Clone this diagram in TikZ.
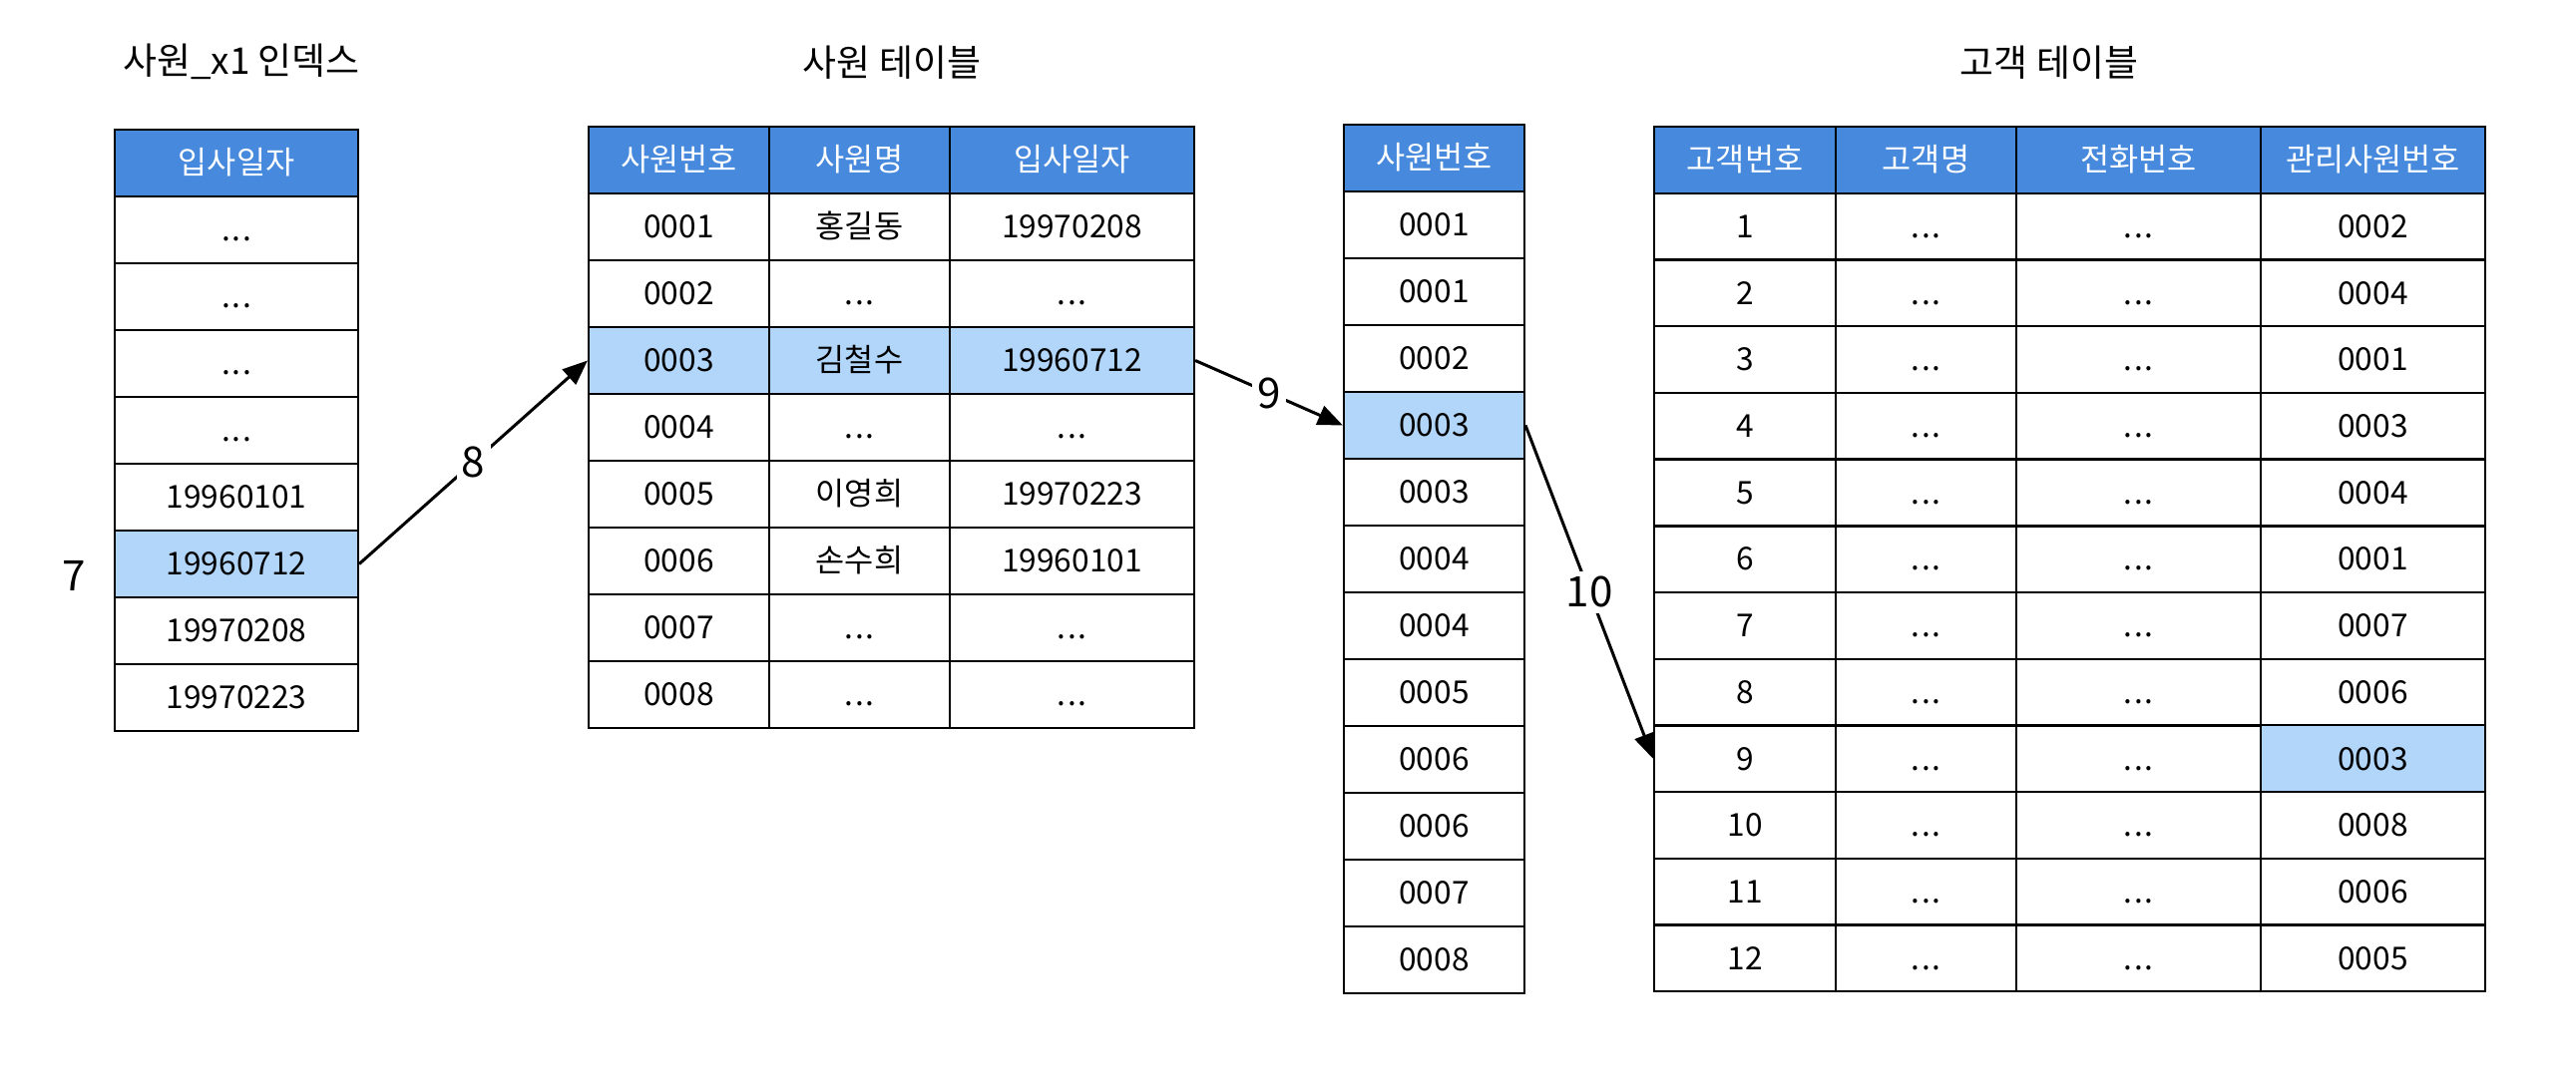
\documentclass[tikz,border=0pt]{standalone}
\usepackage{fontspec}
\setmainfont{Noto Sans CJK KR}
\usepackage{xcolor}
\usepackage{tikz}
\usetikzlibrary{arrows.meta}
\definecolor{headblue}{RGB}{70,137,221}
\definecolor{rowblue}{RGB}{177,214,250}
\newcommand{\etc}{.\kern0.5pt.\kern0.5pt.}

\tikzset{
  cell/.style={draw=black, line width=0.2mm, minimum height=0.67cm, inner sep=0pt, text height=0.72em, text depth=0.08em, font=\fontsize{9}{11}\selectfont},
  head/.style={cell, fill=headblue, text=white},
  hit/.style={cell, fill=rowblue},
  title/.style={font=\fontsize{10.5}{13}\selectfont},
  numlabel/.style={fill=white, inner sep=1.5pt, font=\fontsize{12}{14}\selectfont},
  link/.style={line width=0.3mm, -{Triangle[length=2.5mm, width=2mm]}}
}

\begin{document}
\begin{tikzpicture}[x=0.01cm, y=-0.01cm]
            \useasboundingbox (0,0) rectangle (2582,1094);

            % titles
            \node[title] (t1) at (242,62) {사원\_x1 인덱스};
            \node[title] (t2) at (894,63) {사원 테이블};
            \node[title] (t3) at (2054,63) {고객 테이블};

            % index table
            \node[head, minimum width=2.44cm] (i0) at (237,163.5) {입사일자};
            \foreach \v/\s [count=\r] in {\etc/cell,\etc/cell,\etc/cell,\etc/cell,19960101/cell,19960712/hit,19970208/cell,19970223/cell}
              \node[\s, minimum width=2.44cm] (i\r) at (237,163.5+67*\r) {\v};
            \node[numlabel] (n7) at (74,577) {7};

            % employee table
            \node[head, minimum width=1.81cm] (ea0) at (680.5,160.5) {사원번호};
            \node[head, minimum width=1.81cm] (eb0) at (861.5,160.5) {사원명};
            \node[head, minimum width=2.45cm] (ec0) at (1074.5,160.5) {입사일자};
            \foreach \a/\b/\c/\s [count=\r] in {0001/홍길동/19970208/cell,0002/\etc/\etc/cell,0003/김철수/19960712/hit,0004/\etc/\etc/cell,0005/이영희/19970223/cell,0006/손수희/19960101/cell,0007/\etc/\etc/cell,0008/\etc/\etc/cell} {
              \node[\s, minimum width=1.81cm] (ea\r) at (680.5,160.5+67*\r) {\a};
              \node[\s, minimum width=1.81cm] (eb\r) at (861.5,160.5+67*\r) {\b};
              \node[\s, minimum width=2.45cm] (ec\r) at (1074.5,160.5+67*\r) {\c};
            }

            % employee number index
            \node[head, minimum width=1.81cm] (m0) at (1437.5,158.5) {사원번호};
            \foreach \v/\s [count=\r] in {0001/cell,0001/cell,0002/cell,0003/hit,0003/cell,0004/cell,0004/cell,0005/cell,0006/cell,0006/cell,0007/cell,0008/cell}
              \node[\s, minimum width=1.81cm] (m\r) at (1437.5,158.5+67*\r) {\v};

            % customer table
            \node[head, minimum width=1.82cm] (ca0) at (1749,160.5) {고객번호};
            \node[head, minimum width=1.81cm] (cb0) at (1930.5,160.5) {고객명};
            \node[head, minimum width=2.45cm] (cc0) at (2143.5,160.5) {전화번호};
            \node[head, minimum width=2.25cm] (cd0) at (2378.5,160.5) {관리사원번호};
            \foreach \v/\s [count=\r] in {0002/cell,0004/cell,0001/cell,0003/cell,0004/cell,0001/cell,0007/cell,0006/cell,0003/hit,0008/cell,0006/cell,0005/cell} {
              \node[cell, minimum width=1.82cm] (ca\r) at (1749,160.5+66.7*\r) {\r};
              \node[cell, minimum width=1.81cm] (cb\r) at (1930.5,160.5+66.7*\r) {\etc};
              \node[cell, minimum width=2.45cm] (cc\r) at (2143.5,160.5+66.7*\r) {\etc};
              \node[\s, minimum width=2.25cm] (cd\r) at (2378.5,160.5+66.7*\r) {\v};
            }

            % lookup arrows
            \draw[link] (i6.east) -- node[numlabel] {8} (ea3.west);
            \draw[link] (ec3.east) -- node[numlabel] {9} (m4.west);
            \draw[link] (m4.east) -- node[numlabel] {10} (ca9.west);
        \end{tikzpicture}
\end{document}
